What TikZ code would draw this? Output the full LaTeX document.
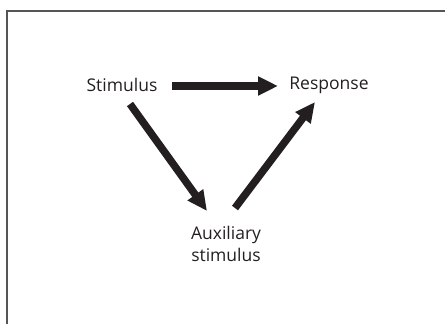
\documentclass[tikz,border=0pt]{standalone}
\usepackage{fontspec}
\setmainfont{Open Sans}
\usetikzlibrary{arrows.meta}
\definecolor{ink}{HTML}{231F20}
\definecolor{framegray}{HTML}{555555}
\tikzset{
  lbl/.style={text=ink, font=\fontsize{17.5pt}{22.5pt}\selectfont, inner sep=0pt, align=center},
  bigarrow/.style={draw=ink, line width=7.5pt, -{Triangle[length=20pt,width=18pt]}}
}
\begin{document}
\begin{tikzpicture}[x=1pt,y=-1pt]
\useasboundingbox (0,0) rectangle (445,324);
\draw[framegray, line width=1.6pt] (7,330) -- (7,10.8) -- (450,10.8);
\node[lbl] (s) at (122,85) {Stimulus};
\node[lbl] (r) at (329,85) {Response};
\node[lbl] (a) at (226,244) {Auxiliary\\stimulus};
\coordinate (h1) at (172,86);
\coordinate (h2) at (278,86);
\coordinate (d1) at (130,104);
\coordinate (d2) at (207,211);
\coordinate (u1) at (235,208);
\coordinate (u2) at (315,102);
\draw[bigarrow] (h1) -- (h2);
\draw[bigarrow] (d1) -- (d2);
\draw[bigarrow] (u1) -- (u2);
\end{tikzpicture}
\end{document}
